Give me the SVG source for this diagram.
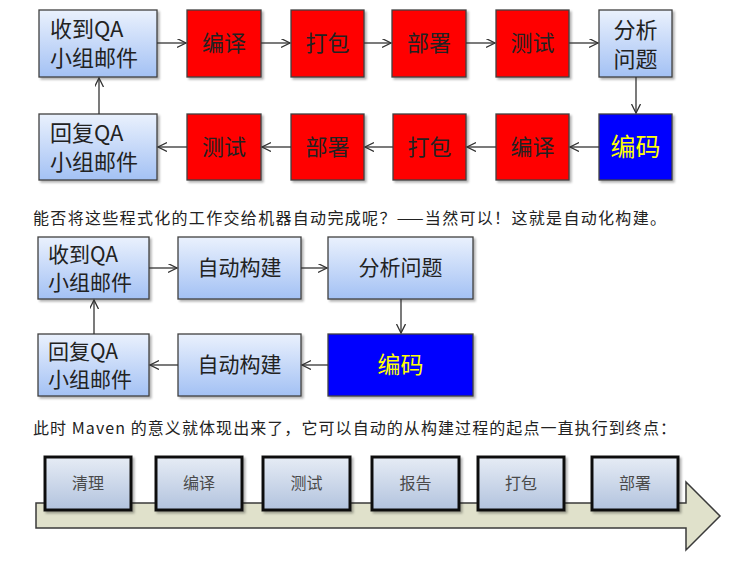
<svg xmlns="http://www.w3.org/2000/svg" width="737" height="561" viewBox="0 0 737 561">
<defs>
  <linearGradient id="gBlue" x1="0" y1="0" x2="0" y2="1">
    <stop offset="0" stop-color="#eaf1fd"/>
    <stop offset="1" stop-color="#a3c1f4"/>
  </linearGradient>
  <linearGradient id="gPipe" x1="0" y1="0" x2="0" y2="1">
    <stop offset="0" stop-color="#e6ecf5"/>
    <stop offset="1" stop-color="#b2c3de"/>
  </linearGradient>
  <filter id="sh" x="-10%" y="-10%" width="130%" height="130%">
    <feDropShadow dx="2" dy="2" stdDeviation="1.2" flood-color="#000" flood-opacity="0.3"/>
  </filter>
  <marker id="arr" markerUnits="userSpaceOnUse" markerWidth="12" markerHeight="12" refX="9" refY="4.5" orient="auto">
    <path d="M0,0 L9,4.5 L0,9" fill="none" stroke="#333" stroke-width="1.3"/>
  </marker>
</defs>
<style>
  .lb { fill: url(#gBlue); stroke: #404040; stroke-width: 1.3; filter: url(#sh); }
  .rd { fill: #ff0000; stroke: #404040; stroke-width: 1.3; filter: url(#sh); }
  .bl { fill: #0000ff; stroke: #404040; stroke-width: 1.3; filter: url(#sh); }
  .pb { fill: url(#gPipe); stroke: #111; stroke-width: 3; filter: url(#sh); }
  .t { font-family: "Noto Sans CJK SC", "Noto Sans", sans-serif; fill: #222; }
  .t22 { font-size: 22px; }
  .t21 { font-size: 21px; }
  .c { text-anchor: middle; }
  .y { fill: #ffff00; }
  .pt { font-family: "Noto Sans CJK SC", sans-serif; font-size: 16px; fill: #4a4a4a; text-anchor: middle; }
  .para { font-family: "Noto Sans CJK SC", "Noto Sans", sans-serif; font-size: 16px; fill: #222; }
  .cn { fill: none; stroke: #333; stroke-width: 1.3; marker-end: url(#arr); }
</style>

<!-- Diagram 1 -->
<g id="d1-recv"><rect class="lb" x="39" y="10" width="118" height="67"/>
  <text class="t t22" x="50" y="37">收到QA</text><text class="t t22" x="50" y="66">小组邮件</text></g>
<g id="d1-compile"><rect class="rd" x="187" y="10" width="74" height="67"/><text class="t t22 c" x="224" y="51">编译</text></g>
<g id="d1-package"><rect class="rd" x="291" y="10" width="73" height="67"/><text class="t t22 c" x="327.5" y="51">打包</text></g>
<g id="d1-deploy"><rect class="rd" x="392" y="10" width="74" height="67"/><text class="t t22 c" x="429" y="51">部署</text></g>
<g id="d1-test"><rect class="rd" x="496" y="10" width="73" height="67"/><text class="t t22 c" x="532.5" y="51">测试</text></g>
<g id="d1-analyze"><rect class="lb" x="599" y="10" width="73" height="67"/>
  <text class="t t22 c" x="635.5" y="38">分析</text><text class="t t22 c" x="635.5" y="67">问题</text></g>
<g id="d1-reply"><rect class="lb" x="39" y="114" width="118" height="66"/>
  <text class="t t22" x="50" y="141">回复QA</text><text class="t t22" x="50" y="170">小组邮件</text></g>
<g id="d1-test2"><rect class="rd" x="187" y="114" width="74" height="66"/><text class="t t22 c" x="224" y="155">测试</text></g>
<g id="d1-deploy2"><rect class="rd" x="291" y="114" width="73" height="66"/><text class="t t22 c" x="327.5" y="155">部署</text></g>
<g id="d1-package2"><rect class="rd" x="393" y="114" width="73" height="66"/><text class="t t22 c" x="429.5" y="155">打包</text></g>
<g id="d1-compile2"><rect class="rd" x="496" y="114" width="73" height="66"/><text class="t t22 c" x="532.5" y="155">编译</text></g>
<g id="d1-code"><rect class="bl" x="599" y="114" width="73" height="66"/><text class="t c y" style="font-size:25px" x="635.5" y="156">编码</text></g>

<g id="d1-connectors">
  <line class="cn" x1="157" y1="43" x2="186" y2="43"/>
  <line class="cn" x1="261" y1="43" x2="290" y2="43"/>
  <line class="cn" x1="364" y1="43" x2="391" y2="43"/>
  <line class="cn" x1="466" y1="43" x2="495" y2="43"/>
  <line class="cn" x1="569" y1="43" x2="598" y2="43"/>
  <line class="cn" x1="636" y1="77" x2="636" y2="113"/>
  <line class="cn" x1="599" y1="147" x2="570" y2="147"/>
  <line class="cn" x1="496" y1="147" x2="467" y2="147"/>
  <line class="cn" x1="393" y1="147" x2="365" y2="147"/>
  <line class="cn" x1="291" y1="147" x2="262" y2="147"/>
  <line class="cn" x1="187" y1="147" x2="158" y2="147"/>
  <line class="cn" x1="99" y1="114" x2="99" y2="78"/>
</g>

<text class="para" x="33" y="224" textLength="633" lengthAdjust="spacing">能否将这些程式化的工作交给机器自动完成呢？——当然可以！这就是自动化构建。</text>

<!-- Diagram 2 -->
<g id="d2-recv"><rect class="lb" x="38" y="237" width="111" height="62"/>
  <text class="t t21" x="48" y="262">收到QA</text><text class="t t21" x="48" y="290">小组邮件</text></g>
<g id="d2-build"><rect class="lb" x="178" y="237" width="123" height="62"/><text class="t t21 c" x="239.5" y="275">自动构建</text></g>
<g id="d2-analyze"><rect class="lb" x="328" y="237" width="145" height="62"/><text class="t t21 c" x="400.5" y="275">分析问题</text></g>
<g id="d2-reply"><rect class="lb" x="38" y="334" width="111" height="62"/>
  <text class="t t21" x="48" y="359">回复QA</text><text class="t t21" x="48" y="387">小组邮件</text></g>
<g id="d2-build2"><rect class="lb" x="178" y="334" width="123" height="62"/><text class="t t21 c" x="239.5" y="372">自动构建</text></g>
<g id="d2-code"><rect class="bl" x="328" y="334" width="145" height="62"/><text class="t c y" style="font-size:23px" x="400.5" y="373">编码</text></g>

<g id="d2-connectors">
  <line class="cn" x1="149" y1="268" x2="177" y2="268"/>
  <line class="cn" x1="301" y1="268" x2="327" y2="268"/>
  <line class="cn" x1="401" y1="299" x2="401" y2="333"/>
  <line class="cn" x1="328" y1="365" x2="302" y2="365"/>
  <line class="cn" x1="178" y1="365" x2="150" y2="365"/>
  <line class="cn" x1="94" y1="334" x2="94" y2="300"/>
</g>

<text class="para" x="33" y="434" textLength="643" lengthAdjust="spacing">此时 Maven 的意义就体现出来了，它可以自动的从构建过程的起点一直执行到终点：</text>

<!-- Pipeline -->
<polygon points="36,503 686,503 686,482 720,516 686,550 686,528 36,528" fill="#e0e1cb" stroke="#3a3a3a" stroke-width="1.5"/>
<g id="p-clean"><rect class="pb" x="45" y="457" width="86" height="53"/><text class="pt" x="88" y="489">清理</text></g>
<g id="p-compile"><rect class="pb" x="156" y="457" width="86" height="53"/><text class="pt" x="199" y="489">编译</text></g>
<g id="p-test"><rect class="pb" x="263" y="457" width="87" height="53"/><text class="pt" x="306.5" y="489">测试</text></g>
<g id="p-report"><rect class="pb" x="372" y="457" width="87" height="53"/><text class="pt" x="415.5" y="489">报告</text></g>
<g id="p-package"><rect class="pb" x="478" y="457" width="86" height="53"/><text class="pt" x="521" y="489">打包</text></g>
<g id="p-deploy"><rect class="pb" x="592" y="457" width="86" height="53"/><text class="pt" x="635" y="489">部署</text></g>
</svg>
